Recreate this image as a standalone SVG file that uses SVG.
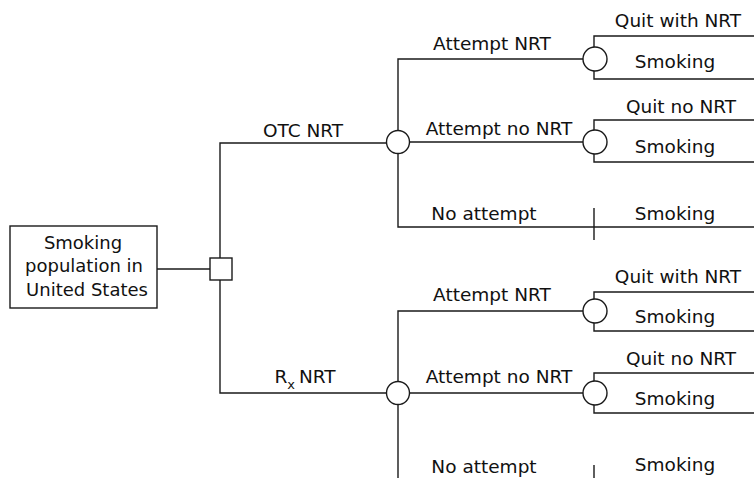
<svg xmlns="http://www.w3.org/2000/svg" width="754" height="478" viewBox="0 0 754 478">
<style>
.ln{fill:none;stroke:#1a1a1a;stroke-width:1.4}
.nd{fill:#fff;stroke:#1a1a1a;stroke-width:1.4}
text{font-family:"DejaVu Sans",sans-serif;font-size:18.5px;fill:#111;text-anchor:middle}
.bx{font-size:18px}
</style>
<rect width="754" height="478" fill="#fff"/>
<g id="connectors" class="ln">
<path d="M157 269H210"/>
<path d="M220 258V143H387M220 280V393H387"/>
<path d="M398 131V59H583M410 142H583M398 154V227H754"/>
<path d="M398 382V311H583M410 393H583M398 405V478"/>
<path d="M594 47V36H754M594 71V79H754"/>
<path d="M594 130V120H754M594 154V162H754"/>
<path d="M594 299V292H754M594 323V331H754"/>
<path d="M594 381V373H754M594 405V413H754"/>
<path d="M594 208V240M594 465V478"/>
</g>
<g id="root">
<rect class="nd" x="10" y="226" width="147" height="82"/>
<text class="bx" x="83" y="249">Smoking</text>
<text class="bx" x="84" y="272">population in</text>
<text class="bx" x="87" y="296">United States</text>
</g>
<g id="decision"><rect class="nd" x="210" y="258" width="22" height="22"/></g>
<g id="chance-otc"><circle class="nd" cx="398" cy="142" r="11.5"/></g>
<g id="chance-rx"><circle class="nd" cx="398" cy="393" r="11.5"/></g>
<g id="chance-otc-nrt"><circle class="nd" cx="595" cy="59" r="12"/></g>
<g id="chance-otc-nonrt"><circle class="nd" cx="595" cy="142" r="12"/></g>
<g id="chance-rx-nrt"><circle class="nd" cx="595" cy="311" r="12"/></g>
<g id="chance-rx-nonrt"><circle class="nd" cx="595" cy="393" r="12"/></g>
<g id="labels">
<text x="305" y="383"><tspan>R</tspan><tspan dx="0" dy="6" font-size="13">x</tspan><tspan dy="-6" dx="4">NRT</tspan></text>
<text x="303" y="137">OTC NRT</text>
<text x="492" y="50">Attempt NRT</text>
<text x="499" y="135">Attempt no NRT</text>
<text x="484" y="220">No attempt</text>
<text x="492" y="301">Attempt NRT</text>
<text x="499" y="383">Attempt no NRT</text>
<text x="484" y="473">No attempt</text>
<text x="678" y="27">Quit with NRT</text>
<text x="675" y="68">Smoking</text>
<text x="681" y="113">Quit no NRT</text>
<text x="675" y="153">Smoking</text>
<text x="675" y="220">Smoking</text>
<text x="678" y="283">Quit with NRT</text>
<text x="675" y="323">Smoking</text>
<text x="681" y="365">Quit no NRT</text>
<text x="675" y="405">Smoking</text>
<text x="675" y="471">Smoking</text>
</g>
</svg>
